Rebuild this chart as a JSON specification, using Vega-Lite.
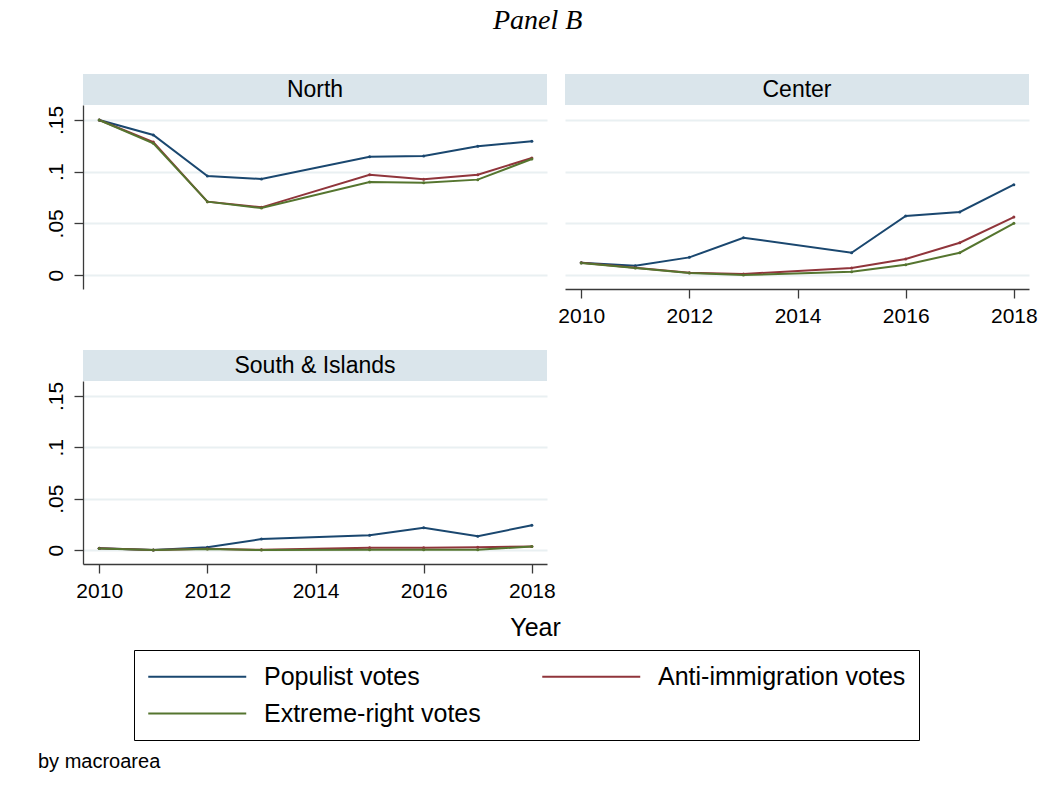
{
  "$schema": "https://vega.github.io/schema/vega-lite/v6.json",
  "background": "white",
  "padding": {"left": 38, "top": 7, "right": 20, "bottom": 5},
  "title": {"text": "Panel B", "font": "Liberation Serif", "fontStyle": "italic", "fontWeight": "normal", "fontSize": 28, "anchor": "middle", "offset": 39, "color": "#000"},
  "datasets": {
    "votes": [
      {"region": "North", "series": "Populist votes", "year": 2010, "value": 0.1500},
      {"region": "North", "series": "Populist votes", "year": 2011, "value": 0.1355},
      {"region": "North", "series": "Populist votes", "year": 2012, "value": 0.0958},
      {"region": "North", "series": "Populist votes", "year": 2013, "value": 0.0929},
      {"region": "North", "series": "Populist votes", "year": 2015, "value": 0.1145},
      {"region": "North", "series": "Populist votes", "year": 2016, "value": 0.1152},
      {"region": "North", "series": "Populist votes", "year": 2017, "value": 0.1245},
      {"region": "North", "series": "Populist votes", "year": 2018, "value": 0.1294},
      {"region": "North", "series": "Anti-immigration votes", "year": 2010, "value": 0.1500},
      {"region": "North", "series": "Anti-immigration votes", "year": 2011, "value": 0.1287},
      {"region": "North", "series": "Anti-immigration votes", "year": 2012, "value": 0.0710},
      {"region": "North", "series": "Anti-immigration votes", "year": 2013, "value": 0.0655},
      {"region": "North", "series": "Anti-immigration votes", "year": 2015, "value": 0.0971},
      {"region": "North", "series": "Anti-immigration votes", "year": 2016, "value": 0.0926},
      {"region": "North", "series": "Anti-immigration votes", "year": 2017, "value": 0.0971},
      {"region": "North", "series": "Anti-immigration votes", "year": 2018, "value": 0.1132},
      {"region": "North", "series": "Extreme-right votes", "year": 2010, "value": 0.1500},
      {"region": "North", "series": "Extreme-right votes", "year": 2011, "value": 0.1274},
      {"region": "North", "series": "Extreme-right votes", "year": 2012, "value": 0.0710},
      {"region": "North", "series": "Extreme-right votes", "year": 2013, "value": 0.0648},
      {"region": "North", "series": "Extreme-right votes", "year": 2015, "value": 0.0900},
      {"region": "North", "series": "Extreme-right votes", "year": 2016, "value": 0.0894},
      {"region": "North", "series": "Extreme-right votes", "year": 2017, "value": 0.0923},
      {"region": "North", "series": "Extreme-right votes", "year": 2018, "value": 0.1123},
      {"region": "Center", "series": "Populist votes", "year": 2010, "value": 0.0119},
      {"region": "Center", "series": "Populist votes", "year": 2011, "value": 0.0090},
      {"region": "Center", "series": "Populist votes", "year": 2012, "value": 0.0171},
      {"region": "Center", "series": "Populist votes", "year": 2013, "value": 0.0361},
      {"region": "Center", "series": "Populist votes", "year": 2015, "value": 0.0216},
      {"region": "Center", "series": "Populist votes", "year": 2016, "value": 0.0571},
      {"region": "Center", "series": "Populist votes", "year": 2017, "value": 0.0610},
      {"region": "Center", "series": "Populist votes", "year": 2018, "value": 0.0874},
      {"region": "Center", "series": "Anti-immigration votes", "year": 2010, "value": 0.0119},
      {"region": "Center", "series": "Anti-immigration votes", "year": 2011, "value": 0.0071},
      {"region": "Center", "series": "Anti-immigration votes", "year": 2012, "value": 0.0023},
      {"region": "Center", "series": "Anti-immigration votes", "year": 2013, "value": 0.0010},
      {"region": "Center", "series": "Anti-immigration votes", "year": 2015, "value": 0.0068},
      {"region": "Center", "series": "Anti-immigration votes", "year": 2016, "value": 0.0155},
      {"region": "Center", "series": "Anti-immigration votes", "year": 2017, "value": 0.0313},
      {"region": "Center", "series": "Anti-immigration votes", "year": 2018, "value": 0.0561},
      {"region": "Center", "series": "Extreme-right votes", "year": 2010, "value": 0.0116},
      {"region": "Center", "series": "Extreme-right votes", "year": 2011, "value": 0.0068},
      {"region": "Center", "series": "Extreme-right votes", "year": 2012, "value": 0.0019},
      {"region": "Center", "series": "Extreme-right votes", "year": 2013, "value": 0.0000},
      {"region": "Center", "series": "Extreme-right votes", "year": 2015, "value": 0.0032},
      {"region": "Center", "series": "Extreme-right votes", "year": 2016, "value": 0.0100},
      {"region": "Center", "series": "Extreme-right votes", "year": 2017, "value": 0.0216},
      {"region": "Center", "series": "Extreme-right votes", "year": 2018, "value": 0.0500},
      {"region": "South & Islands", "series": "Populist votes", "year": 2010, "value": 0.0019},
      {"region": "South & Islands", "series": "Populist votes", "year": 2011, "value": 0.0000},
      {"region": "South & Islands", "series": "Populist votes", "year": 2012, "value": 0.0029},
      {"region": "South & Islands", "series": "Populist votes", "year": 2013, "value": 0.0107},
      {"region": "South & Islands", "series": "Populist votes", "year": 2015, "value": 0.0145},
      {"region": "South & Islands", "series": "Populist votes", "year": 2016, "value": 0.0217},
      {"region": "South & Islands", "series": "Populist votes", "year": 2017, "value": 0.0136},
      {"region": "South & Islands", "series": "Populist votes", "year": 2018, "value": 0.0242},
      {"region": "South & Islands", "series": "Anti-immigration votes", "year": 2010, "value": 0.0019},
      {"region": "South & Islands", "series": "Anti-immigration votes", "year": 2011, "value": 0.0000},
      {"region": "South & Islands", "series": "Anti-immigration votes", "year": 2012, "value": 0.0013},
      {"region": "South & Islands", "series": "Anti-immigration votes", "year": 2013, "value": 0.0003},
      {"region": "South & Islands", "series": "Anti-immigration votes", "year": 2015, "value": 0.0023},
      {"region": "South & Islands", "series": "Anti-immigration votes", "year": 2016, "value": 0.0023},
      {"region": "South & Islands", "series": "Anti-immigration votes", "year": 2017, "value": 0.0029},
      {"region": "South & Islands", "series": "Anti-immigration votes", "year": 2018, "value": 0.0036},
      {"region": "South & Islands", "series": "Extreme-right votes", "year": 2010, "value": 0.0016},
      {"region": "South & Islands", "series": "Extreme-right votes", "year": 2011, "value": 0.0000},
      {"region": "South & Islands", "series": "Extreme-right votes", "year": 2012, "value": 0.0010},
      {"region": "South & Islands", "series": "Extreme-right votes", "year": 2013, "value": 0.0000},
      {"region": "South & Islands", "series": "Extreme-right votes", "year": 2015, "value": 0.0003},
      {"region": "South & Islands", "series": "Extreme-right votes", "year": 2016, "value": 0.0003},
      {"region": "South & Islands", "series": "Extreme-right votes", "year": 2017, "value": 0.0003},
      {"region": "South & Islands", "series": "Extreme-right votes", "year": 2018, "value": 0.0036}
    ],
    "regions": [
      {"region": "North"},
      {"region": "Center"},
      {"region": "South & Islands"}
    ]
  },
  "spacing": 24,
  "vconcat": [
    {
      "spacing": 10,
      "hconcat": [
        {
          "spacing": 0,
          "vconcat": [
            {
              "width": 464, "height": 31,
              "view": {"fill": "#dae5eb", "stroke": null},
              "data": {"name": "regions"},
              "transform": [{"filter": "datum.region === 'North'"}],
              "mark": {"type": "text", "font": "Liberation Sans", "fontSize": 23, "color": "#000", "baseline": "middle", "align": "center"},
              "encoding": {"text": {"field": "region", "type": "nominal"}}
            },
            {
              "width": 464, "height": 184,
              "data": {"name": "votes"},
              "transform": [{"filter": "datum.region === 'North'"}],
              "mark": {"type": "line", "strokeWidth": 2, "point": {"filled": true, "size": 9}},
              "encoding": {
                "x": {"field": "year", "type": "quantitative", "scale": {"domain": [2009.7, 2018.28], "nice": false, "zero": false}, "axis": null},
                "y": {"field": "value", "type": "quantitative", "scale": {"domain": [-0.0135, 0.1645], "nice": false, "zero": false},
                      "axis": {"title": null, "values": [0, 0.05, 0.1, 0.15], "labelExpr": "datum.value == 0 ? '0' : replace(toString(datum.value), '0.', '.')"}},
                "color": {"field": "series", "type": "nominal",
                          "scale": {"domain": ["Populist votes", "Anti-immigration votes", "Extreme-right votes"], "range": ["#1a476f", "#90353b", "#55752f"]},
                          "legend": {"orient": "none", "legendX": 51, "legendY": 576, "columns": 2, "direction": "horizontal", "title": null}}
              }
            }
          ]
        },
        {
          "spacing": 0,
          "vconcat": [
            {
              "width": 464, "height": 31,
              "view": {"fill": "#dae5eb", "stroke": null},
              "data": {"name": "regions"},
              "transform": [{"filter": "datum.region === 'Center'"}],
              "mark": {"type": "text", "font": "Liberation Sans", "fontSize": 23, "color": "#000", "baseline": "middle", "align": "center"},
              "encoding": {"text": {"field": "region", "type": "nominal"}}
            },
            {
              "width": 464, "height": 184,
              "data": {"name": "votes"},
              "transform": [{"filter": "datum.region === 'Center'"}],
              "mark": {"type": "line", "strokeWidth": 2, "point": {"filled": true, "size": 9}},
              "encoding": {
                "x": {"field": "year", "type": "quantitative", "scale": {"domain": [2009.7, 2018.28], "nice": false, "zero": false},
                      "axis": {"title": null, "values": [2010, 2012, 2014, 2016, 2018], "format": "d"}},
                "y": {"field": "value", "type": "quantitative", "scale": {"domain": [-0.0135, 0.1645], "nice": false, "zero": false},
                      "axis": {"title": null, "values": [0, 0.05, 0.1, 0.15], "labels": false, "ticks": false, "domain": false}},
                "color": {"field": "series", "type": "nominal",
                          "scale": {"domain": ["Populist votes", "Anti-immigration votes", "Extreme-right votes"], "range": ["#1a476f", "#90353b", "#55752f"]},
                          "legend": {"orient": "none", "legendX": 51, "legendY": 576, "columns": 2, "direction": "horizontal", "title": null}}
              }
            }
          ]
        }
      ]
    },
    {
      "spacing": 0,
      "title": {"text": "by macroarea", "orient": "bottom", "anchor": "start", "dx": -7, "offset": 112, "font": "Liberation Sans", "fontSize": 20, "fontWeight": "normal", "color": "#000"},
      "vconcat": [
        {
          "width": 464, "height": 31,
          "view": {"fill": "#dae5eb", "stroke": null},
          "data": {"name": "regions"},
          "transform": [{"filter": "datum.region === 'South & Islands'"}],
          "mark": {"type": "text", "font": "Liberation Sans", "fontSize": 23, "color": "#000", "baseline": "middle", "align": "center"},
          "encoding": {"text": {"field": "region", "type": "nominal"}}
        },
        {
          "width": 464, "height": 183,
          "data": {"name": "votes"},
          "transform": [{"filter": "datum.region === 'South & Islands'"}],
          "mark": {"type": "line", "strokeWidth": 2, "point": {"filled": true, "size": 9}},
          "encoding": {
            "x": {"field": "year", "type": "quantitative", "scale": {"domain": [2009.7, 2018.28], "nice": false, "zero": false},
                  "axis": {"title": "Year", "values": [2010, 2012, 2014, 2016, 2018], "format": "d", "titleX": 452, "titleY": 71, "titleBaseline": "alphabetic", "titleAlign": "center", "titleFontSize": 25, "titleFontWeight": "normal", "titleFont": "Liberation Sans", "titleColor": "#000"}},
            "y": {"field": "value", "type": "quantitative", "scale": {"domain": [-0.0135, 0.1645], "nice": false, "zero": false},
                  "axis": {"title": null, "values": [0, 0.05, 0.1, 0.15], "labelExpr": "datum.value == 0 ? '0' : replace(toString(datum.value), '0.', '.')"}},
            "color": {"field": "series", "type": "nominal",
                      "scale": {"domain": ["Populist votes", "Anti-immigration votes", "Extreme-right votes"], "range": ["#1a476f", "#90353b", "#55752f"]},
                      "legend": {"orient": "none", "legendX": 51, "legendY": 576, "columns": 2, "direction": "horizontal", "title": null}}
          }
        }
      ]
    }
  ],
  "config": {
    "view": {"stroke": null},
    "font": "Liberation Sans",
    "axis": {"labelFont": "Liberation Sans", "labelFontSize": 21, "labelColor": "#000", "domainColor": "#3a3a3a", "tickColor": "#3a3a3a", "domainWidth": 1.3, "tickWidth": 1.3, "tickSize": 9, "gridColor": "#e9f0f2", "gridWidth": 1.8},
    "axisX": {"grid": false, "labelPadding": 7},
    "axisY": {"grid": true, "labelAngle": -90, "labelPadding": 8},
    "legend": {
      "symbolType": "M-1,0H7", "symbolSize": 600, "symbolStrokeWidth": 2,
      "labelFont": "Liberation Sans", "labelFontSize": 25, "labelColor": "#000", "labelLimit": 500, "labelOffset": 90,
      "columnPadding": 57, "rowPadding": 10, "padding": 13, "strokeColor": "#000"
    }
  }
}
